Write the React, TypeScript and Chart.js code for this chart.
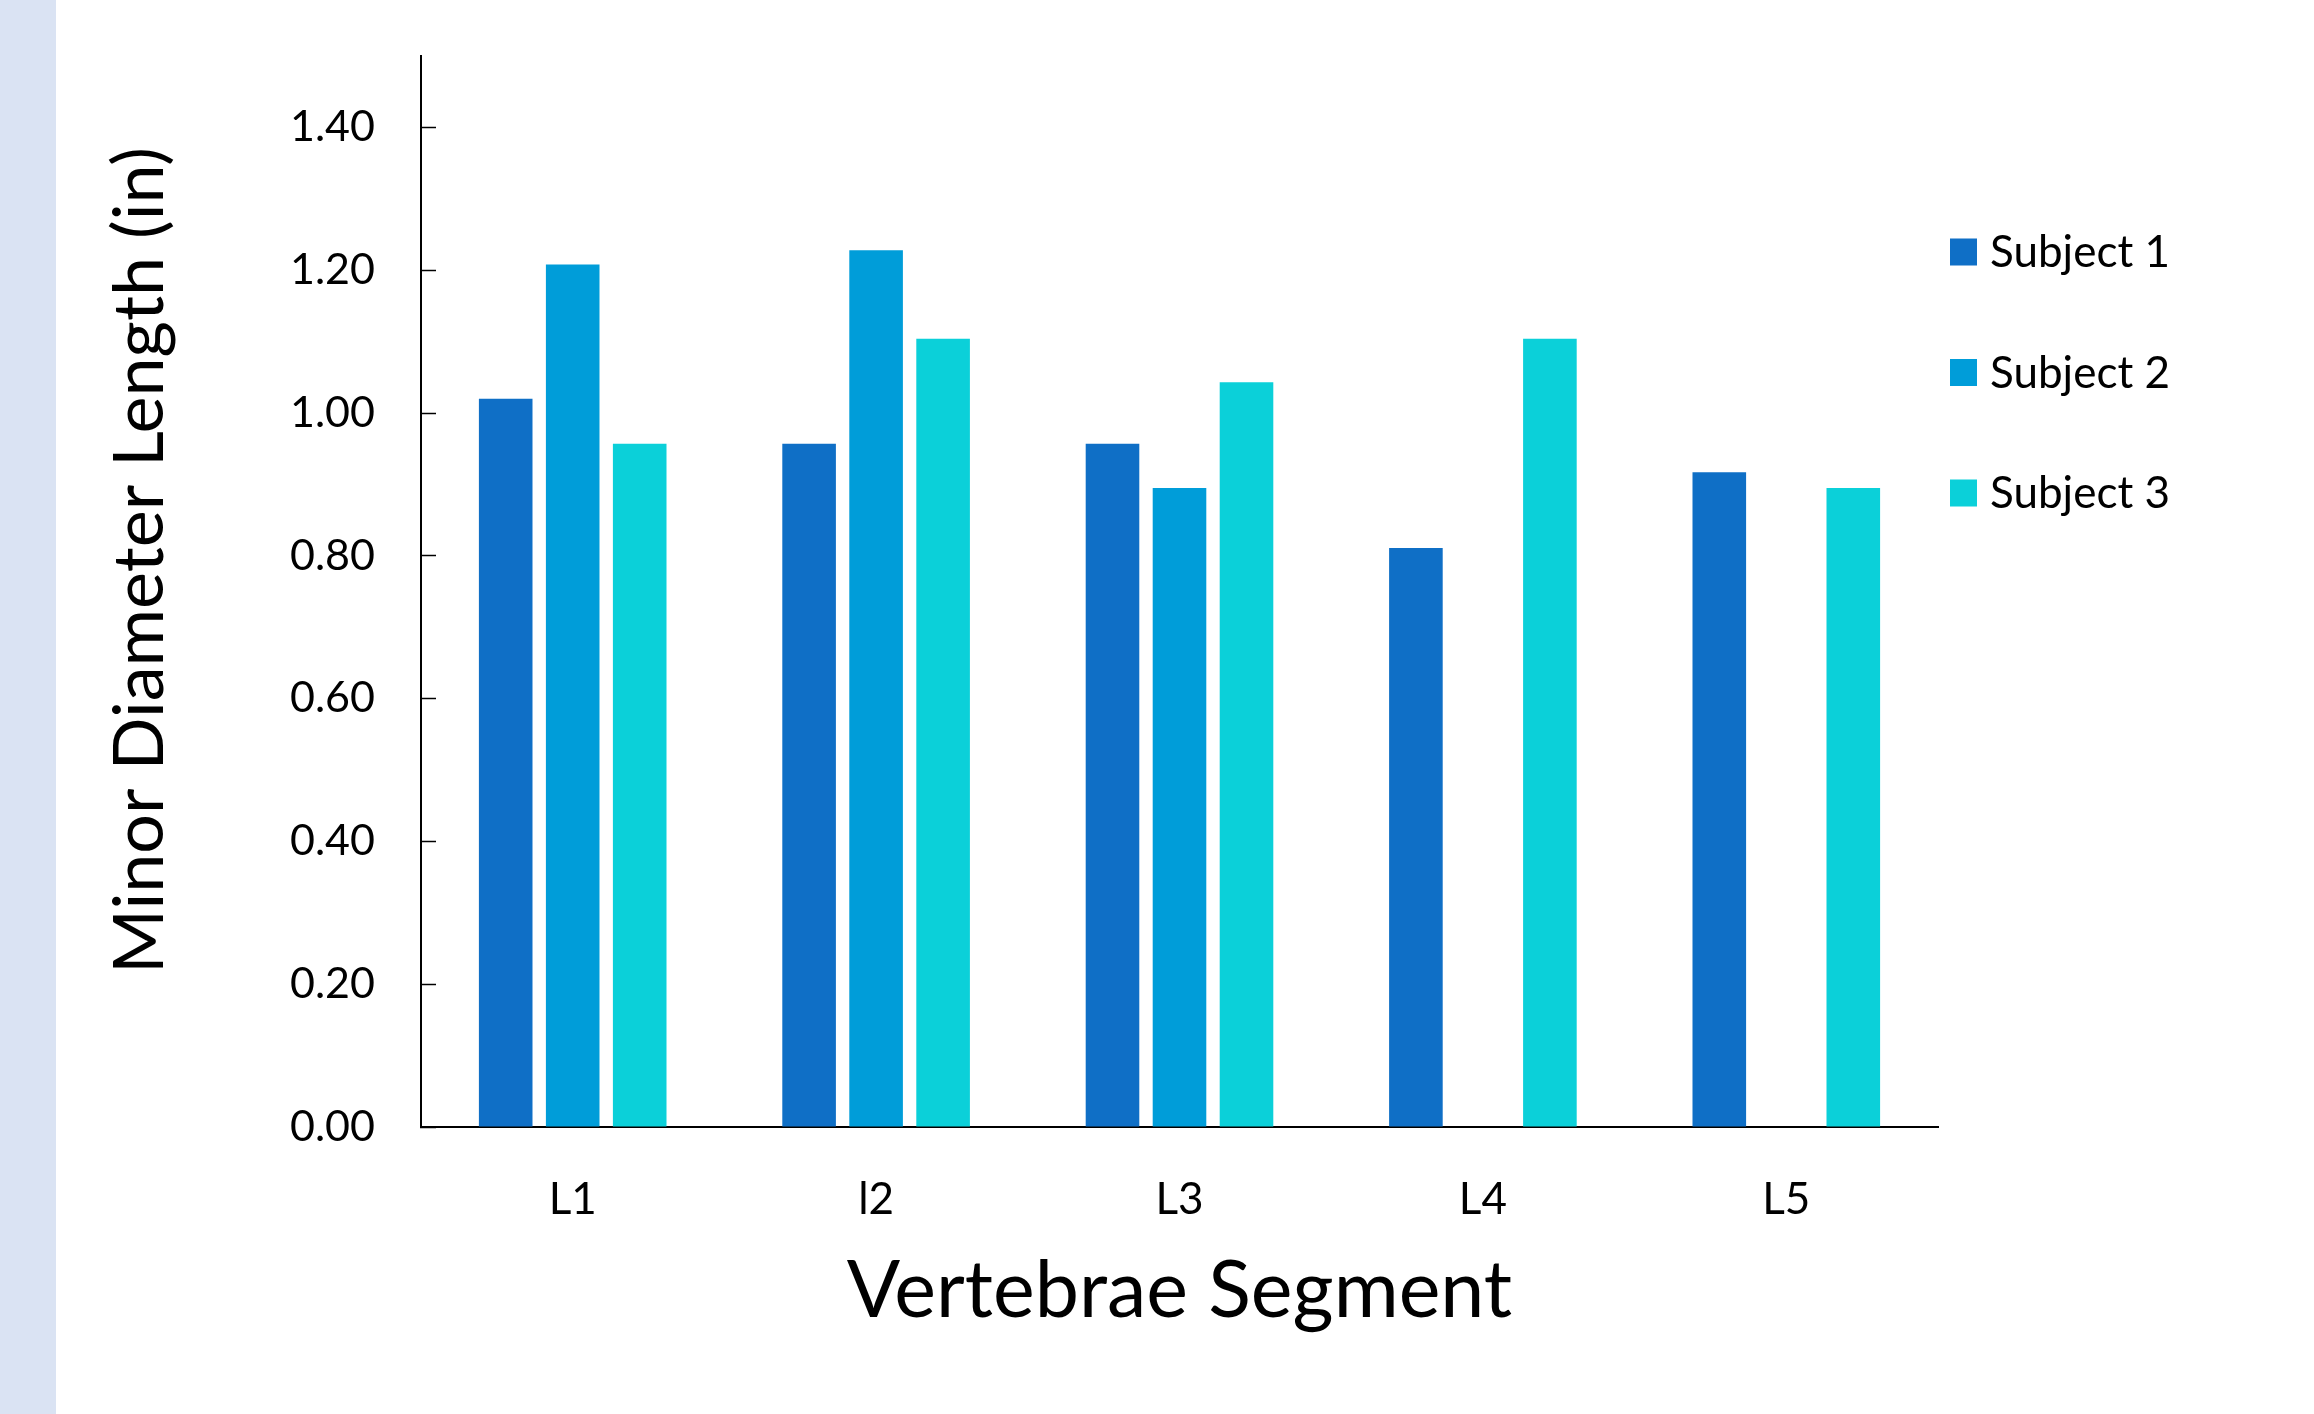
import React, { useEffect, useRef } from "react";
import { Chart, registerables } from "chart.js";

Chart.register(...registerables);

const categories = ["L1", "l2", "L3", "L4", "L5"];
const seriesNames = ["Subject 1", "Subject 2", "Subject 3"];
const subject1 = [1.02, 0.957, 0.957, 0.811, 0.917];
const subject2 = [1.208, 1.228, 0.895, null, null];
const subject3 = [0.957, 1.104, 1.043, 1.104, 0.895];
const seriesColors = ["#0F6FC6", "#009DD9", "#0BD0D9"];
const yMin = 0;
const yMax = 1.5;
const yStep = 0.2;
const yAxisTitle = "Minor Diameter Length (in)";
const xAxisTitle = "Vertebrae Segment";

const FONT = "Lato";

const decorPlugin = {
  id: "decor",
  afterDraw(chart: any) {
    const { ctx, chartArea } = chart;
    // Y axis title
    ctx.save();
    ctx.translate(140, (chartArea.top + chartArea.bottom) / 2 - 31);
    ctx.rotate(-Math.PI / 2);
    ctx.font = `70px ${FONT}`;
    ctx.fillStyle = "#000";
    ctx.textAlign = "center";
    ctx.textBaseline = "middle";
    ctx.fillText(yAxisTitle, 0, 0);
    ctx.restore();
    // Legend
    ctx.save();
    ctx.font = `44px ${FONT}`;
    ctx.textAlign = "left";
    ctx.textBaseline = "middle";
    chart.data.datasets.forEach((ds: any, i: number) => {
      const yc = chartArea.top + 196 + i * 120.5;
      const bx = chartArea.right + 12;
      ctx.fillStyle = ds.backgroundColor;
      ctx.fillRect(bx, yc - 13.5, 27, 27);
      ctx.fillStyle = "#000";
      ctx.fillText(ds.label, bx + 40, yc + 1);
    });
    ctx.restore();
  },
};

export default function App() {
  const canvasRef = useRef<HTMLCanvasElement | null>(null);

  useEffect(() => {
    if (!canvasRef.current) return;
    const chart = new Chart(canvasRef.current, {
      type: "bar",
      data: {
        labels: categories,
        datasets: [subject1, subject2, subject3].map((d, i) => ({
          label: seriesNames[i],
          data: d,
          backgroundColor: seriesColors[i],
          borderWidth: 0,
          categoryPercentage: 0.6625,
          barPercentage: 0.8,
        })),
      },
      options: {
        responsive: false,
        animation: false,
        devicePixelRatio: 1,
        layout: { padding: { left: 0, top: 56, right: 376, bottom: 75 } },
        plugins: {
          legend: { display: false },
          tooltip: { enabled: false },
          title: { display: false },
        },
        scales: {
          x: {
            grid: { display: true, drawOnChartArea: false, drawTicks: false },
            border: { display: true, color: "#000", width: 2 },
            ticks: { font: { family: FONT, size: 44 }, color: "#000", padding: 46 },
            title: {
              display: true,
              text: xAxisTitle,
              font: { family: FONT, size: 79 },
              color: "#000",
              padding: { top: 0, bottom: 0 },
            },
            afterFit: (s: any) => {
              s.height = 212;
              s.paddingLeft = 0;
              s.paddingRight = 0;
            },
          },
          y: {
            min: yMin,
            max: yMax,
            grid: {
              display: true,
              drawOnChartArea: false,
              drawTicks: true,
              tickLength: -15,
              tickWidth: 1.5,
              tickColor: "#000",
            },
            border: { display: true, color: "#000", width: 2 },
            ticks: {
              stepSize: yStep,
              includeBounds: false,
              font: { family: FONT, size: 43 },
              color: "#000",
              padding: 61,
              callback: (v: any) => Number(v).toFixed(2),
            },
            afterFit: (s: any) => {
              s.width = 421;
              s.paddingTop = 0;
              s.paddingBottom = 0;
            },
          },
        },
      },
      plugins: [decorPlugin],
    } as any);
    return () => chart.destroy();
  }, []);

  return (
    <div style={{ position: "fixed", left: 0, top: 0, width: 2314, height: 1414, background: "#fff" }}>
      <div style={{ position: "absolute", left: 0, top: 0, width: 56, height: 1414, background: "#DAE3F3" }} />
      <canvas
        ref={canvasRef}
        width={2314}
        height={1414}
        style={{ position: "absolute", left: 0, top: 0, width: 2314, height: 1414 }}
      />
    </div>
  );
}
